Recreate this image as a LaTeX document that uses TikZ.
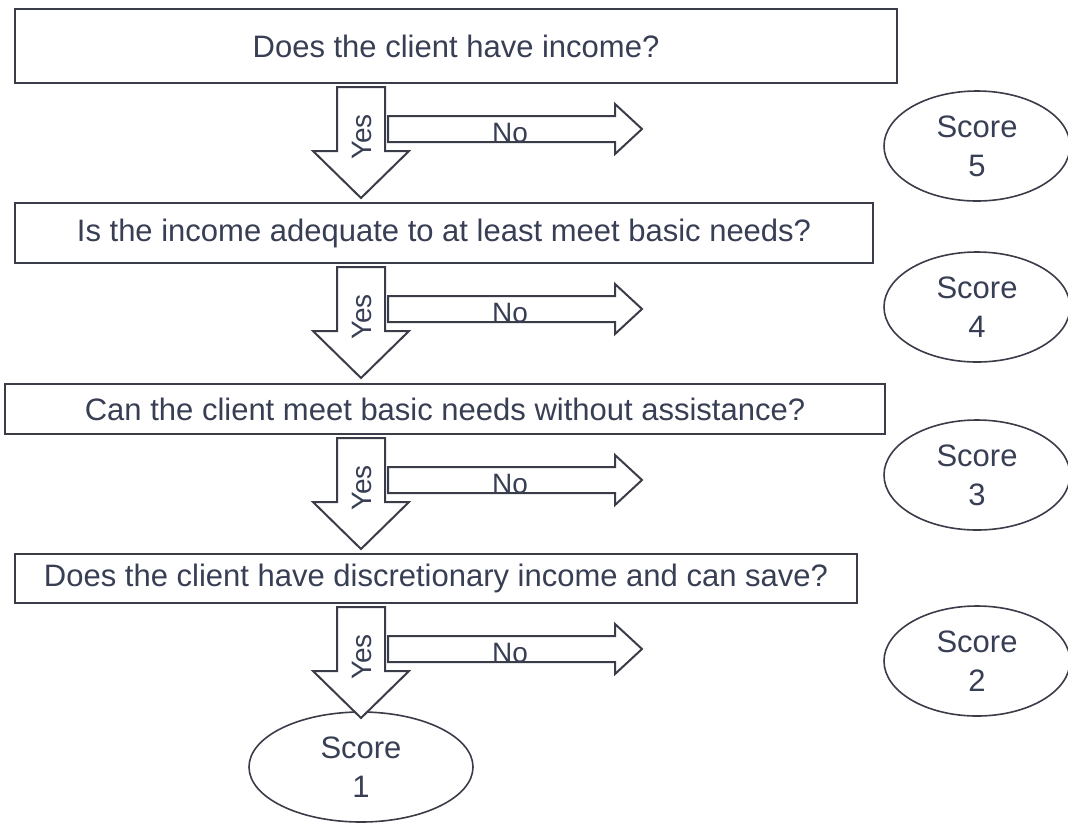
\documentclass[tikz,border=0pt]{standalone}
\usepackage{fontspec}
\setmainfont{Liberation Sans}
\usetikzlibrary{shapes.geometric}
\definecolor{ln}{RGB}{58,60,72}
\definecolor{tx}{RGB}{56,62,84}
\begin{document}
\begin{tikzpicture}[x=1pt,y=-1pt,
  question/.style={draw=ln,line width=2.4pt,fill=white,inner sep=0pt,
    text=tx,font=\fontsize{31}{36}\selectfont},
  score/.style={draw=ln,line width=1.6pt,ellipse,inner sep=0pt,align=center,
    text=tx,font=\fontsize{31}{39}\selectfont,
    minimum width=186pt,minimum height=110pt},
  blockarrow/.style={draw=ln,line width=2pt,fill=white,line join=miter},
  yn/.style={text=tx,font=\fontsize{28}{32}\selectfont,inner sep=0pt}]
\useasboundingbox (0,0) rectangle (1068,823);

% question boxes
\node[question,minimum width=882pt,minimum height=74pt] (q1) at (456,46)
  {Does the client have income?};
\node[question,minimum width=858pt,minimum height=60pt] (q2) at (444,233)
  {Is the income adequate to at least meet basic needs?};
\node[question,minimum width=880pt,minimum height=50pt] (q3) at (445,409)
  {Can the client meet basic needs without assistance?};
\node[question,minimum width=842pt,minimum height=49pt] (q4) at (436,578.5)
  {Does the client have discretionary income and can save?};

% scores
\node[score] (s5) at (977,146) {Score\\5};
\node[score] (s4) at (977,307) {Score\\4};
\node[score] (s3) at (977,475) {Score\\3};
\node[score] (s2) at (977,661) {Score\\2};
\node[score,minimum width=224pt] (s1) at (361,767) {Score\\1};

% yes / no block arrows below each question
\foreach \q/\b in {q1/83,q2/263,q3/434,q4/603}{
  \begin{scope}[shift={(0,\b)}]
    \draw[blockarrow] (337,4) -- (385,4) -- (385,68) -- (409,68) -- (361,115)
      -- (313,68) -- (337,68) -- cycle;
    \draw[blockarrow] (388,33) -- (615,33) -- (615,21) -- (642,46) -- (615,71)
      -- (615,59) -- (388,59) -- cycle;
    \node[yn,rotate=90] (yes-\q) at (362,54) {Yes};
    \node[yn,anchor=base] (no-\q) at (510,59) {No};
  \end{scope}
}
\end{tikzpicture}
\end{document}
